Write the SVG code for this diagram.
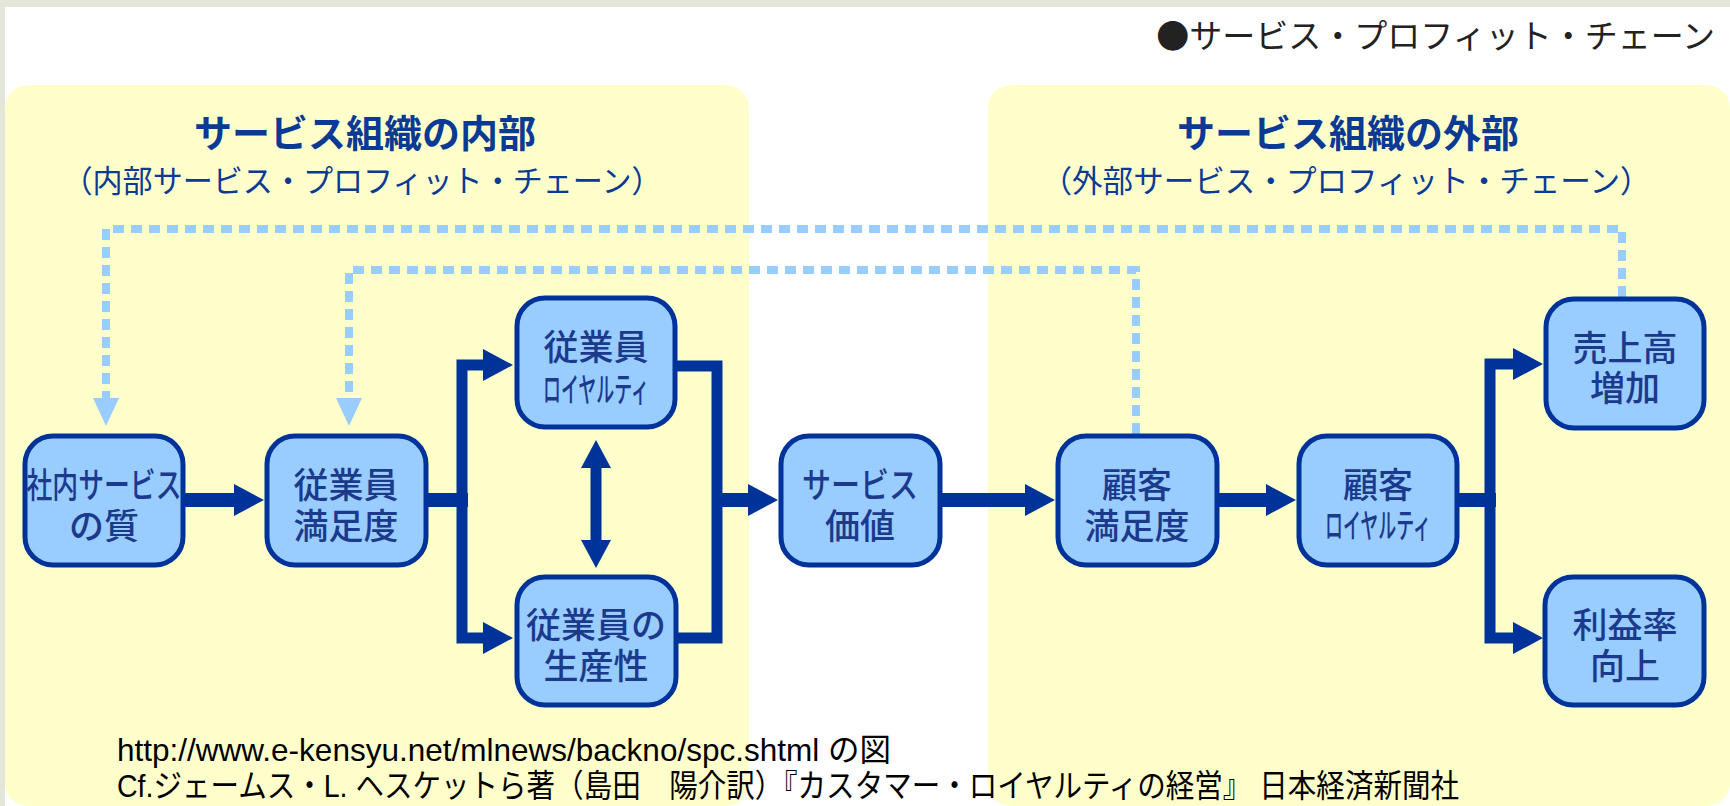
<svg xmlns="http://www.w3.org/2000/svg" width="1730" height="806" viewBox="0 0 1730 806">
<style>
.panel{fill:#ffffcc}
.node{fill:#99ccff;stroke:#003399;stroke-width:5}
.nt{font-family:"Noto Sans CJK JP","Noto Sans CJK SC",sans-serif;font-size:35px;font-weight:500;fill:#1c3a8c;text-anchor:middle;dominant-baseline:central}
.nts{font-size:34px}
.head{font-family:"Noto Sans CJK JP",sans-serif;font-weight:bold;font-size:38px;fill:#0a3a94;text-anchor:middle;dominant-baseline:central}
.sub{font-family:"Noto Sans CJK JP",sans-serif;font-size:31px;fill:#0a3a94;text-anchor:middle;dominant-baseline:central}
.solid{fill:none;stroke:#003399;stroke-width:14;stroke-linejoin:miter}
.thin{fill:none;stroke:#003399;stroke-width:11;stroke-linejoin:miter}
.dash{fill:none;stroke:#99ccff;stroke-width:8;stroke-dasharray:11 7}
.foot{font-family:"Liberation Sans","Noto Sans CJK JP",sans-serif;font-size:32px;fill:#000}
</style>
<defs>
<marker id="ah" markerUnits="userSpaceOnUse" markerWidth="30" markerHeight="32" refX="8" refY="16" orient="auto"><path d="M0,0 L30,16 L0,32 z" fill="#003399"/></marker>
<marker id="ah2" markerUnits="userSpaceOnUse" markerWidth="28" markerHeight="30" refX="8" refY="15" orient="auto-start-reverse"><path d="M0,0 L28,15 L0,30 z" fill="#003399"/></marker>
</defs>
<rect x="0" y="0" width="1730" height="806" fill="#ffffff"/>
<rect x="0" y="0" width="1730" height="7" fill="#e3e6d8"/>
<rect x="0" y="0" width="5" height="806" fill="#e3e6d8"/>
<g id="panels">
<rect class="panel" x="5" y="85" width="744" height="721" rx="23"/>
<rect class="panel" x="988" y="85" width="742" height="721" rx="23"/>
</g>
<g id="title">
<text x="1715" y="34" font-family="Noto Sans CJK JP, sans-serif" font-size="33" fill="#222" text-anchor="end" dominant-baseline="central">●サービス・プロフィット・チェーン</text>
</g>
<g id="headings">
<text class="head" x="365" y="130">サービス組織の内部</text>
<text class="sub" x="362" y="178" textLength="599" lengthAdjust="spacingAndGlyphs">（内部サービス・プロフィット・チェーン）</text>
<text class="head" x="1348" y="130">サービス組織の外部</text>
<text class="sub" x="1346" y="178" textLength="609" lengthAdjust="spacingAndGlyphs">（外部サービス・プロフィット・チェーン）</text>
</g>
<g id="connectors">
<path class="dash" d="M1622,297 V229 H106 V398"/>
<polygon points="93,398 119,398 106,426" fill="#99ccff"/>
<path class="dash" d="M1136,434 V270 H349 V398"/>
<polygon points="336,398 362,398 349,426" fill="#99ccff"/>
<path class="solid" d="M185,500 H242" marker-end="url(#ah)"/>
<path class="solid" d="M428,500 H468"/>
<path class="thin" d="M462,500 V365 H491" marker-end="url(#ah)"/>
<path class="thin" d="M462,500 V638 H491" marker-end="url(#ah)"/>
<path class="thin" d="M677,366 H717 V638 H678"/>
<path class="solid" d="M712,500 H756" marker-end="url(#ah)"/>
<path class="thin" d="M596,460 V548" marker-start="url(#ah2)" marker-end="url(#ah2)"/>
<path class="solid" d="M942,500 H1033" marker-end="url(#ah)"/>
<path class="solid" d="M1219,500 H1274" marker-end="url(#ah)"/>
<path class="solid" d="M1459,500 H1496"/>
<path class="thin" d="M1490,500 V364 H1521" marker-end="url(#ah)"/>
<path class="thin" d="M1490,500 V638 H1521" marker-end="url(#ah)"/>
</g>
<g id="n1">
<rect class="node" x="25" y="436" width="158" height="129" rx="28"/>
<text class="nt" x="104" y="482" font-size="33" textLength="155" lengthAdjust="spacingAndGlyphs">社内サービス</text>
<text class="nt" x="104" y="523">の質</text>
</g>
<g id="n2">
<rect class="node" x="267" y="436" width="159" height="129" rx="28"/>
<text class="nt" x="346" y="482">従業員</text>
<text class="nt" x="346" y="523">満足度</text>
</g>
<g id="n3">
<rect class="node" x="517" y="298" width="158" height="129" rx="28"/>
<text class="nt" x="596" y="344">従業員</text>
<text class="nt nts" x="596" y="387" textLength="106" lengthAdjust="spacingAndGlyphs">ロイヤルティ</text>
</g>
<g id="n4">
<rect class="node" x="517" y="577" width="159" height="128" rx="28"/>
<text class="nt" x="596" y="622">従業員の</text>
<text class="nt" x="596" y="663">生産性</text>
</g>
<g id="n5">
<rect class="node" x="781" y="436" width="159" height="129" rx="28"/>
<text class="nt" x="860" y="482" textLength="116" lengthAdjust="spacingAndGlyphs">サービス</text>
<text class="nt" x="860" y="523">価値</text>
</g>
<g id="n6">
<rect class="node" x="1058" y="436" width="159" height="129" rx="28"/>
<text class="nt" x="1137" y="482">顧客</text>
<text class="nt" x="1137" y="523">満足度</text>
</g>
<g id="n7">
<rect class="node" x="1299" y="436" width="158" height="129" rx="28"/>
<text class="nt" x="1378" y="482">顧客</text>
<text class="nt nts" x="1378" y="523" textLength="106" lengthAdjust="spacingAndGlyphs">ロイヤルティ</text>
</g>
<g id="n8">
<rect class="node" x="1546" y="299" width="158" height="129" rx="28"/>
<text class="nt" x="1625" y="345">売上高</text>
<text class="nt" x="1625" y="385">増加</text>
</g>
<g id="n9">
<rect class="node" x="1545" y="577" width="159" height="128" rx="28"/>
<text class="nt" x="1625" y="622">利益率</text>
<text class="nt" x="1625" y="663">向上</text>
</g>
<g id="footer">
<text class="foot" x="117" y="761" textLength="774" lengthAdjust="spacingAndGlyphs">http://www.e-kensyu.net/mlnews/backno/spc.shtml の図</text>
<text class="foot" x="117" y="797" textLength="1342" lengthAdjust="spacingAndGlyphs">Cf.ジェームス・L. ヘスケットら著（島田　陽介訳）『カスタマー・ロイヤルティの経営』 日本経済新聞社</text>
</g>
</svg>
